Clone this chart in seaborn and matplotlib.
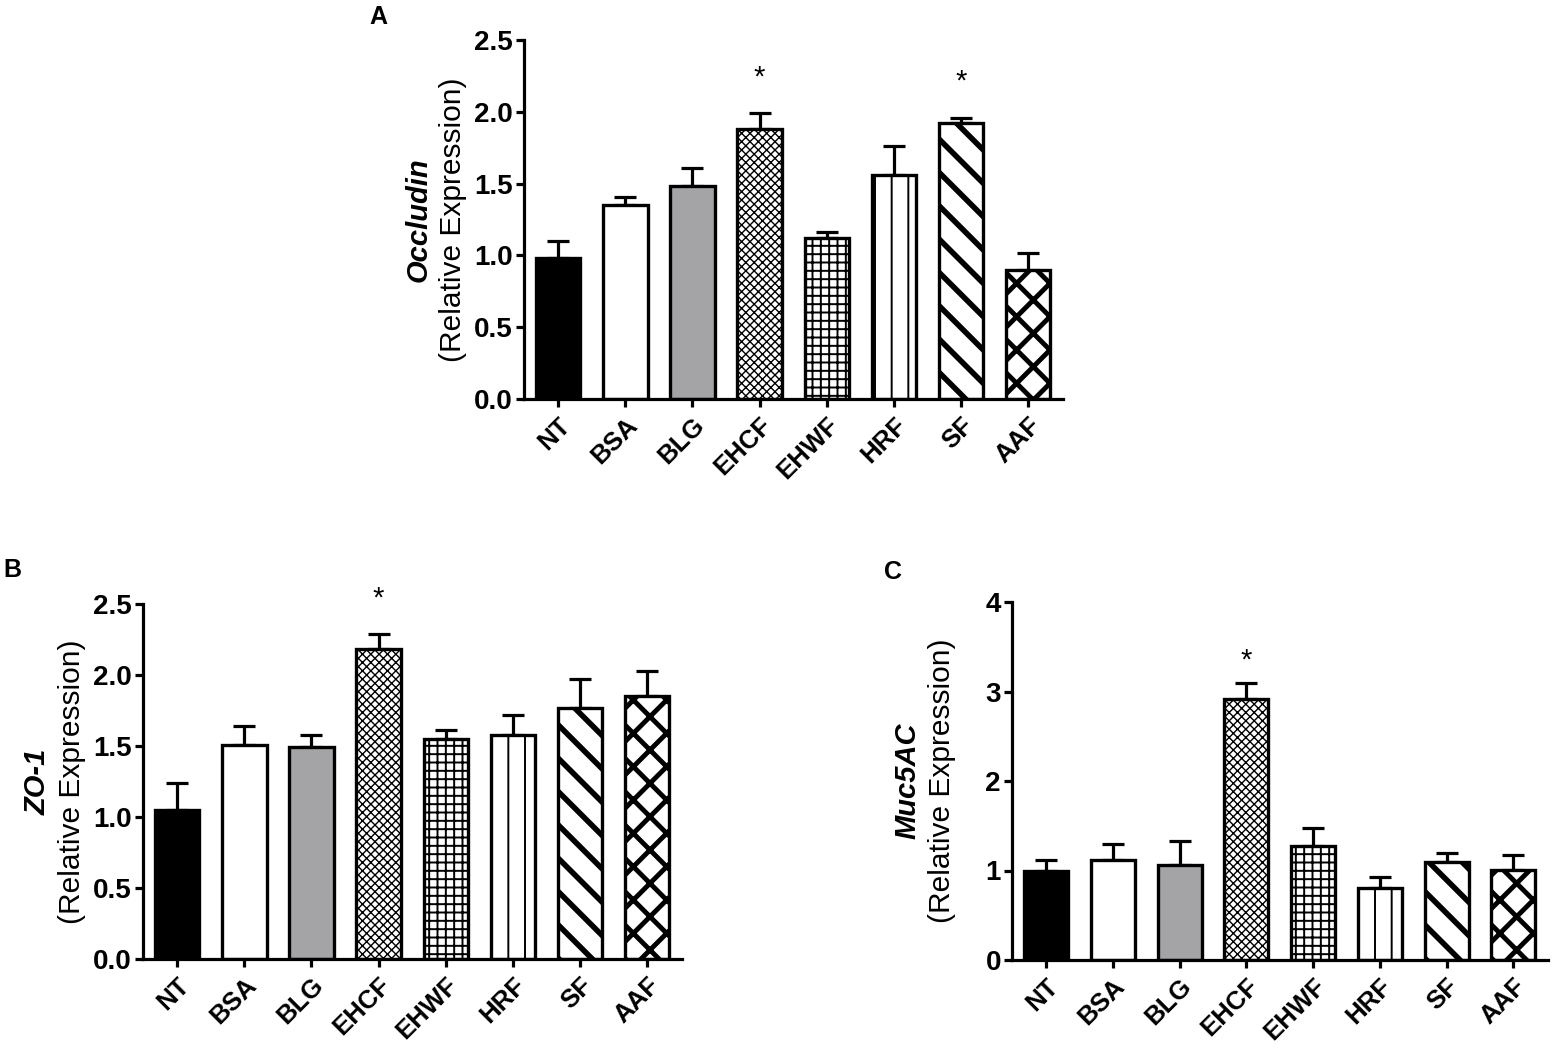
import numpy as np
import pandas as pd
import matplotlib
matplotlib.use('Agg')
import matplotlib.pyplot as plt
import seaborn as sns

# data
groups = ['NT', 'BSA', 'BLG', 'EHCF', 'EHWF', 'HRF', 'SF', 'AAF']

occludin_mean = [0.98, 1.35, 1.48, 1.88, 1.12, 1.56, 1.92, 0.90]
occludin_err = [0.12, 0.06, 0.13, 0.11, 0.045, 0.20, 0.04, 0.12]
occludin_star = ['EHCF', 'SF']

zo1_mean = [1.05, 1.51, 1.49, 2.18, 1.55, 1.58, 1.77, 1.85]
zo1_err = [0.19, 0.13, 0.09, 0.11, 0.06, 0.14, 0.20, 0.18]
zo1_star = ['EHCF']

muc_mean = [1.00, 1.12, 1.06, 2.92, 1.27, 0.81, 1.09, 1.01]
muc_err = [0.12, 0.18, 0.27, 0.18, 0.20, 0.12, 0.11, 0.16]
muc_star = ['EHCF']

# bar look per group
fills = ['black', 'white', '#a3a3a8', 'white', 'white', 'white', 'white', 'white']
hatches = [None, None, None, 'xxxx', '++', '|', '\\', 'x']
hatch_lw = [1, 1, 1, 1.0, 1.4, 1.4, 4.0, 3.5]

sns.set_style('ticks')
plt.rcParams['font.family'] = ['Liberation Sans', 'DejaVu Sans']
plt.rcParams['text.color'] = 'black'
plt.rcParams['axes.labelcolor'] = 'black'
plt.rcParams['axes.edgecolor'] = 'black'
plt.rcParams['xtick.color'] = 'black'
plt.rcParams['ytick.color'] = 'black'
plt.rcParams['axes.linewidth'] = 2.3
plt.rcParams['xtick.major.width'] = 2.3
plt.rcParams['ytick.major.width'] = 2.3
plt.rcParams['xtick.major.size'] = 6
plt.rcParams['ytick.major.size'] = 6

W, H = 1557, 1052
fig = plt.figure(figsize=(W / 100, H / 100), dpi=100)


def draw_panel(rect, means, errs, stars, ymax, step, fmt, gene, letter, letter_xy):
    ax = fig.add_axes(rect)
    df = pd.DataFrame({'group': groups, 'value': means})
    sns.barplot(data=df, x='group', y='value', hue='group', palette=fills,
                legend=False, dodge=False, width=0.66, errorbar=None,
                edgecolor='black', linewidth=2.4, ax=ax, zorder=2)
    for p, h, lw in zip(ax.patches, hatches, hatch_lw):
        if h is not None:
            if hasattr(p, 'set_hatch_linewidth'):
                p.set_hatch_linewidth(lw)
            else:
                plt.rcParams['hatch.linewidth'] = lw
            p.set_hatch(h)
    x = np.arange(len(groups))
    ax.errorbar(x, means, yerr=[np.zeros(len(errs)), errs], fmt='none',
                ecolor='black', elinewidth=2.3, capsize=8, capthick=2.3, zorder=1)
    for g in stars:
        i = groups.index(g)
        ax.text(i, means[i] + errs[i] + 0.25, '*', ha='center', va='center',
                fontsize=21)
    ax.set_xlim(-0.51, 7.52)
    ax.set_ylim(0, ymax)
    ticks = np.arange(0, ymax + step / 2, step)
    ax.set_yticks(ticks)
    ax.set_yticklabels([fmt.format(v) for v in ticks], fontsize=20, fontweight='bold')
    ax.set_xticks(x)
    ax.set_xticklabels(groups, rotation=45, ha='right', rotation_mode='anchor',
                       fontsize=18.5, fontweight='bold')
    ax.tick_params(axis='y', pad=2)
    ax.tick_params(axis='x', pad=4)
    ax.set_xlabel('')
    ax.set_ylabel('')
    sns.despine(ax=ax)
    # two-line y label: gene name (bold italic) over the unit
    ax.text(-0.195, 0.5, gene, transform=ax.transAxes, rotation=90,
            ha='center', va='center', fontsize=21, fontweight='bold', fontstyle='italic')
    ax.text(-0.131, 0.5, '(Relative Expression)', transform=ax.transAxes,
            rotation=90, ha='center', va='center', fontsize=21.5)
    fig.text(letter_xy[0] / W, 1 - letter_xy[1] / H, letter, ha='center',
             va='center', fontsize=18, fontweight='bold')
    return ax


draw_panel([524 / W, 1 - 399 / H, 539 / W, 359 / H], occludin_mean, occludin_err,
           occludin_star, 2.5, 0.5, '{:.1f}', 'Occludin', 'A', (378, 17))
draw_panel([143 / W, 1 - 959 / H, 539 / W, 355 / H], zo1_mean, zo1_err,
           zo1_star, 2.5, 0.5, '{:.1f}', 'ZO-1', 'B', (12, 570))
draw_panel([1012 / W, 1 - 960 / H, 536 / W, 358 / H], muc_mean, muc_err,
           muc_star, 4, 1, '{:.0f}', 'Muc5AC', 'C', (893, 572))

fig.savefig('out.png', dpi=100)
